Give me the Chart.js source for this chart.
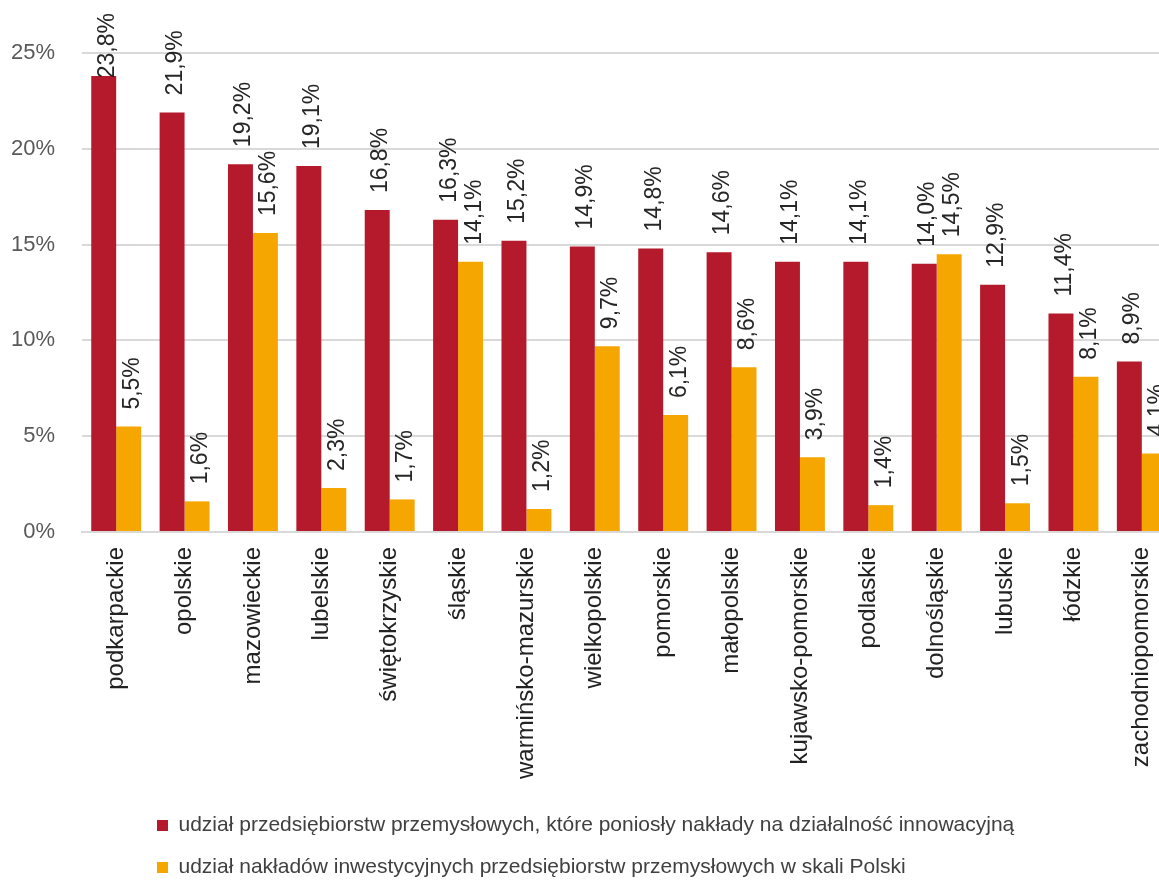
<!DOCTYPE html>
<html><head><meta charset="utf-8">
<script src="https://cdn.jsdelivr.net/npm/chart.js@4.4.1/dist/chart.umd.min.js"></script>
<style>
html,body{margin:0;padding:0;overflow:hidden;background:#fff;width:1159px;height:883px}
#wrap{position:relative;width:1176px;height:883px}
</style></head>
<body><div id="wrap"><canvas id="c" width="1176" height="883"></canvas></div>
<script>
const categories = ['podkarpackie','opolskie','mazowieckie','lubelskie','świętokrzyskie','śląskie','warmińsko-mazurskie','wielkopolskie','pomorskie','małopolskie','kujawsko-pomorskie','podlaskie','dolnośląskie','lubuskie','łódzkie','zachodniopomorskie'];
const innovationShare = [23.8,21.9,19.2,19.1,16.8,16.3,15.2,14.9,14.8,14.6,14.1,14.1,14.0,12.9,11.4,8.9];
const investmentShare = [5.5,1.6,15.6,2.3,1.7,14.1,1.2,9.7,6.1,8.6,3.9,1.4,14.5,1.5,8.1,4.1];
const seriesNames = ['udział przedsiębiorstw przemysłowych, które poniosły nakłady na działalność innowacyjną','udział nakładów inwestycyjnych przedsiębiorstw przemysłowych w skali Polski'];
const yTickValues = [0,5,10,15,20,25];

const RED = '#B41A2B', ORANGE = '#F6A600';
const FONT = '"Liberation Sans", Arial, sans-serif';
const fmt = v => v.toFixed(1).replace('.', ',') + '%';

const valueLabels = {
  id: 'valueLabels',
  afterDatasetsDraw(chart) {
    const ctx = chart.ctx;
    ctx.save();
    ctx.font = '23px ' + FONT;
    ctx.fillStyle = '#262626';
    ctx.textAlign = 'left';
    ctx.textBaseline = 'alphabetic';
    chart.data.datasets.forEach((ds, di) => {
      chart.getDatasetMeta(di).data.forEach((bar, i) => {
        const txt = fmt(ds.data[i]);
        const w = ctx.measureText(txt).width;
        let start = bar.y - 17;
        if (start - w < 13) start = 13 + w;
        ctx.save();
        ctx.translate(bar.x + 10, start);
        ctx.rotate(-Math.PI / 2);
        ctx.fillText(txt, 0, 0);
        ctx.restore();
      });
    });
    ctx.restore();
  }
};

const legendTweak = {
  id: 'legendTweak',
  beforeInit(chart) {
    const lg = chart.legend;
    if (!lg) return;
    const f = lg.fit;
    lg.fit = function () { f.call(this); this.height = 89; };
  },
  afterLayout(chart) {
    if (chart.legend) chart.legend.left = 136;
  }
};

new Chart(document.getElementById('c'), {
  type: 'bar',
  data: {
    labels: categories,
    datasets: [
      { label: seriesNames[0], data: innovationShare, backgroundColor: RED, borderWidth: 0 },
      { label: seriesNames[1], data: investmentShare, backgroundColor: ORANGE, borderWidth: 0 }
    ]
  },
  options: {
    responsive: false,
    animation: false,
    devicePixelRatio: 1,
    layout: { padding: { top: 53, left: 0, right: 0, bottom: 0 } },
    datasets: { bar: { categoryPercentage: 0.73, barPercentage: 1.0 } },
    plugins: {
      tooltip: { enabled: false },
      legend: {
        position: 'bottom',
        align: 'start',
        labels: {
          boxWidth: 11, boxHeight: 11, padding: 21,
          color: '#404040',
          font: { family: FONT, size: 21 }
        }
      }
    },
    scales: {
      x: {
        grid: { display: false, drawTicks: false },
        border: { display: true, color: '#D9D9D9', width: 2 },
        ticks: {
          maxRotation: 90, minRotation: 90, autoSkip: false, padding: 15,
          color: '#222222', font: { family: FONT, size: 24 }
        },
        afterFit(scale) { scale.height = 262; scale.paddingLeft = 0; scale.paddingRight = 0; }
      },
      y: {
        min: 0, max: 25,
        afterBuildTicks(scale) { scale.ticks = yTickValues.map(v => ({ value: v })); },
        grid: { color: '#D9D9D9', lineWidth: 2, drawTicks: false },
        border: { display: false },
        ticks: {
          padding: 27, color: '#595959', font: { family: FONT, size: 22 },
          callback: v => v + '%'
        },
        afterFit(scale) { scale.width = 82; }
      }
    }
  },
  plugins: [valueLabels, legendTweak]
});
</script>
</body></html>
